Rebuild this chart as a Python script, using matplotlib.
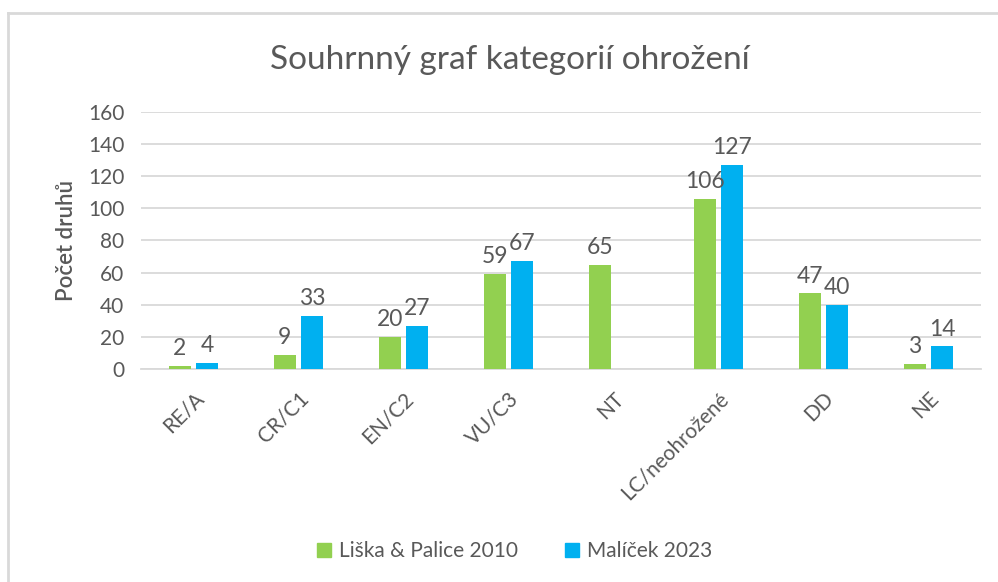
import numpy as np
import matplotlib.pyplot as plt
from matplotlib.lines import Line2D

kategorie = ["RE/A", "CR/C1", "EN/C2", "VU/C3", "NT", "LC/neohrožené", "DD", "NE"]
liska_2010 = [2, 9, 20, 59, 65, 106, 47, 3]
malicek_2023 = [4, 33, 27, 67, None, 127, 40, 14]
serie = ["Liška & Palice 2010", "Malíček 2023"]

zelena = "#92D050"
modra = "#00B0F0"
seda = "#595959"

plt.rcParams["font.family"] = ["Lato", "DejaVu Sans"]

fig = plt.figure(figsize=(9.98, 5.82), dpi=100)
ax = fig.add_axes([0.1413, 0.366, 0.8417, 0.4416])

x = np.arange(len(kategorie))
sirka = 0.215
posun = 0.13

for hodnoty, barva, dx, nazev in [(liska_2010, zelena, -posun, serie[0]),
                                  (malicek_2023, modra, posun, serie[1])]:
    xs = [xi + dx for xi, v in zip(x, hodnoty) if v is not None]
    vs = [v for v in hodnoty if v is not None]
    ax.bar(xs, vs, width=sirka, color=barva, label=nazev, zorder=3)
    for xi, v in zip(xs, vs):
        ax.annotate(str(v), (xi, v), xytext=(0, 5), textcoords="offset points",
                    ha="center", va="bottom", fontsize=16.5, color=seda, zorder=4)

ax.set_xlim(-0.5, len(kategorie) - 0.5)
ax.set_ylim(0, 160)
ax.set_yticks(np.arange(0, 161, 20))
ax.yaxis.grid(True, color="#D9D9D9", linewidth=1.3, zorder=0)
ax.set_axisbelow(True)
for s in ["top", "right", "left"]:
    ax.spines[s].set_visible(False)
ax.spines["bottom"].set_color("#D9D9D9")
ax.spines["bottom"].set_linewidth(1.3)
ax.tick_params(axis="both", length=0, labelsize=15, labelcolor=seda)
ax.tick_params(axis="y", pad=12)
ax.set_xticks(x)
ax.set_xticklabels(kategorie, rotation=45, ha="right", rotation_mode="anchor")
ax.tick_params(axis="x", pad=14)
ax.set_ylabel("Počet druhů", fontsize=16, color=seda, labelpad=8, fontweight="semibold")

fig.text(0.511, 0.897, "Souhrnný graf kategorií ohrožení", ha="center", va="center",
         fontsize=24, color=seda)

uchyty = [Line2D([], [], marker="s", linestyle="", markersize=10, color=zelena),
          Line2D([], [], marker="s", linestyle="", markersize=10, color=modra)]
fig.legend(uchyty, serie, loc="center", bbox_to_anchor=(0.515, 0.053), ncol=2,
           frameon=False, fontsize=15, labelcolor=seda, handlelength=0.8,
           handletextpad=0.3, columnspacing=2.2)

# okraj grafu (nahore a vlevo)
fig.add_artist(Line2D([8 / 998, 1], [1 - 13 / 582, 1 - 13 / 582], color="#D9D9D9",
                      linewidth=2, transform=fig.transFigure))
fig.add_artist(Line2D([8 / 998, 8 / 998], [0, 1 - 13 / 582], color="#D9D9D9",
                      linewidth=2, transform=fig.transFigure))

fig.savefig("out.png", dpi=100)
